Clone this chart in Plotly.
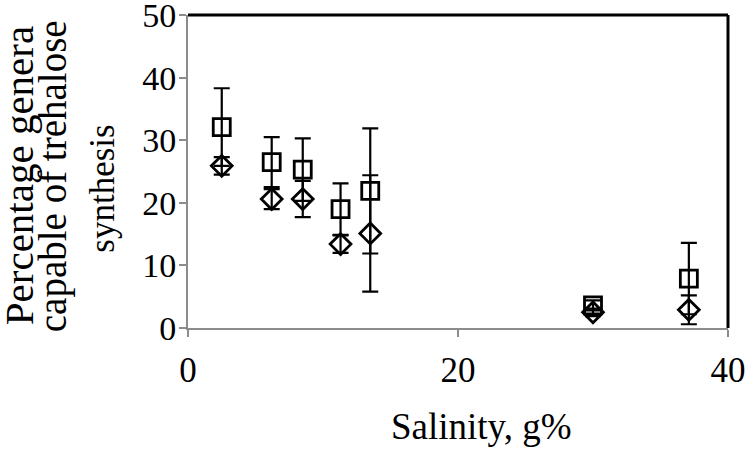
import plotly.graph_objects as go

# Salinity (g%) for each sample
salinity = [2.5, 6.2, 8.5, 11.3, 13.5, 30.0, 37.1]

# Square series and its error
square_pct = [32.1, 26.5, 25.3, 19.0, 21.9, 3.6, 7.9]
square_err = [6.2, 4.0, 5.0, 4.1, 10.0, 0.8, 5.7]

# Diamond series and its error
diamond_pct = [25.9, 20.6, 20.6, 13.4, 15.1, 2.5, 2.9]
diamond_err = [1.4, 1.6, 2.9, 1.4, 9.3, 0.6, 2.3]

x_ticks = [0, 20, 40]
y_ticks = [0, 10, 20, 30, 40, 50]
x_title = "Salinity, g%"
y_title_lines = ["Percentage genera", "capable of trehalose", "synthesis"]

FONT = "Liberation Serif"
AXIS_GRAY = "#8c8c8c"

fig = go.Figure()

fig.add_trace(go.Scatter(
    x=salinity, y=square_pct, mode="markers", name="square",
    marker=dict(symbol="square-open", size=17, color="black", line=dict(width=2.8, color="black")),
    error_y=dict(type="data", array=square_err, color="black", thickness=2.2, width=8),
))
fig.add_trace(go.Scatter(
    x=salinity, y=diamond_pct, mode="markers", name="diamond",
    marker=dict(symbol="diamond-open", size=16, color="black", line=dict(width=2.8, color="black")),
    error_y=dict(type="data", array=diamond_err, color="black", thickness=2.2, width=8),
))

fig.update_layout(
    width=750, height=455,
    paper_bgcolor="white", plot_bgcolor="white",
    showlegend=False,
    margin=dict(l=188, r=22, t=15, b=127),
    font=dict(family=FONT, size=34, color="black"),
    xaxis=dict(
        range=[0, 40], tickvals=x_ticks, showgrid=False, zeroline=False, automargin=False,
        showline=True, linecolor=AXIS_GRAY, linewidth=2,
        ticks="outside", tickcolor=AXIS_GRAY, ticklen=7, tickwidth=2,
        tickfont=dict(family=FONT, size=35), ticklabeloverflow="allow", ticklabelstandoff=3,
    ),
    yaxis=dict(
        range=[0, 50], tickvals=y_ticks, showgrid=False, zeroline=False, automargin=False,
        showline=True, linecolor=AXIS_GRAY, linewidth=2,
        ticks="outside", tickcolor=AXIS_GRAY, ticklen=7, tickwidth=2,
        tickfont=dict(family=FONT, size=34), ticklabeloverflow="allow", ticklabelstandoff=-4,
    ),
)

# black frame on top and right, as in the original chart
fig.add_shape(type="line", xref="paper", yref="paper", x0=0, x1=1, y0=1, y1=1,
              line=dict(color="black", width=3))
fig.add_shape(type="line", xref="paper", yref="paper", x0=1, x1=1, y0=0, y1=1,
              line=dict(color="black", width=3))

# x axis title, sitting a little right of centre as in the original
fig.add_annotation(
    text=x_title, xref="paper", yref="paper", x=0.5, y=0,
    xanchor="center", yanchor="middle", xshift=23, yshift=-98,
    showarrow=False, font=dict(family=FONT, size=37, color="black"),
)

# multi-line y axis title, one rotated annotation per line
title_sizes = [41, 39, 35]
title_xshift = [-169, -135, -85]
title_y = [0.485, 0.485, 0.445]
for line_text, size, dx, ty in zip(y_title_lines, title_sizes, title_xshift, title_y):
    fig.add_annotation(
        text=line_text, xref="paper", yref="paper", x=0, y=ty,
        xanchor="center", yanchor="middle",
        xshift=dx, textangle=-90, showarrow=False,
        font=dict(family=FONT, size=size, color="black"),
    )

# drop the default page margin so the figure sits at the window's corner
fig.write_html("out.html", config={"displayModeBar": False},
               post_script="document.body.style.margin = '0';")
